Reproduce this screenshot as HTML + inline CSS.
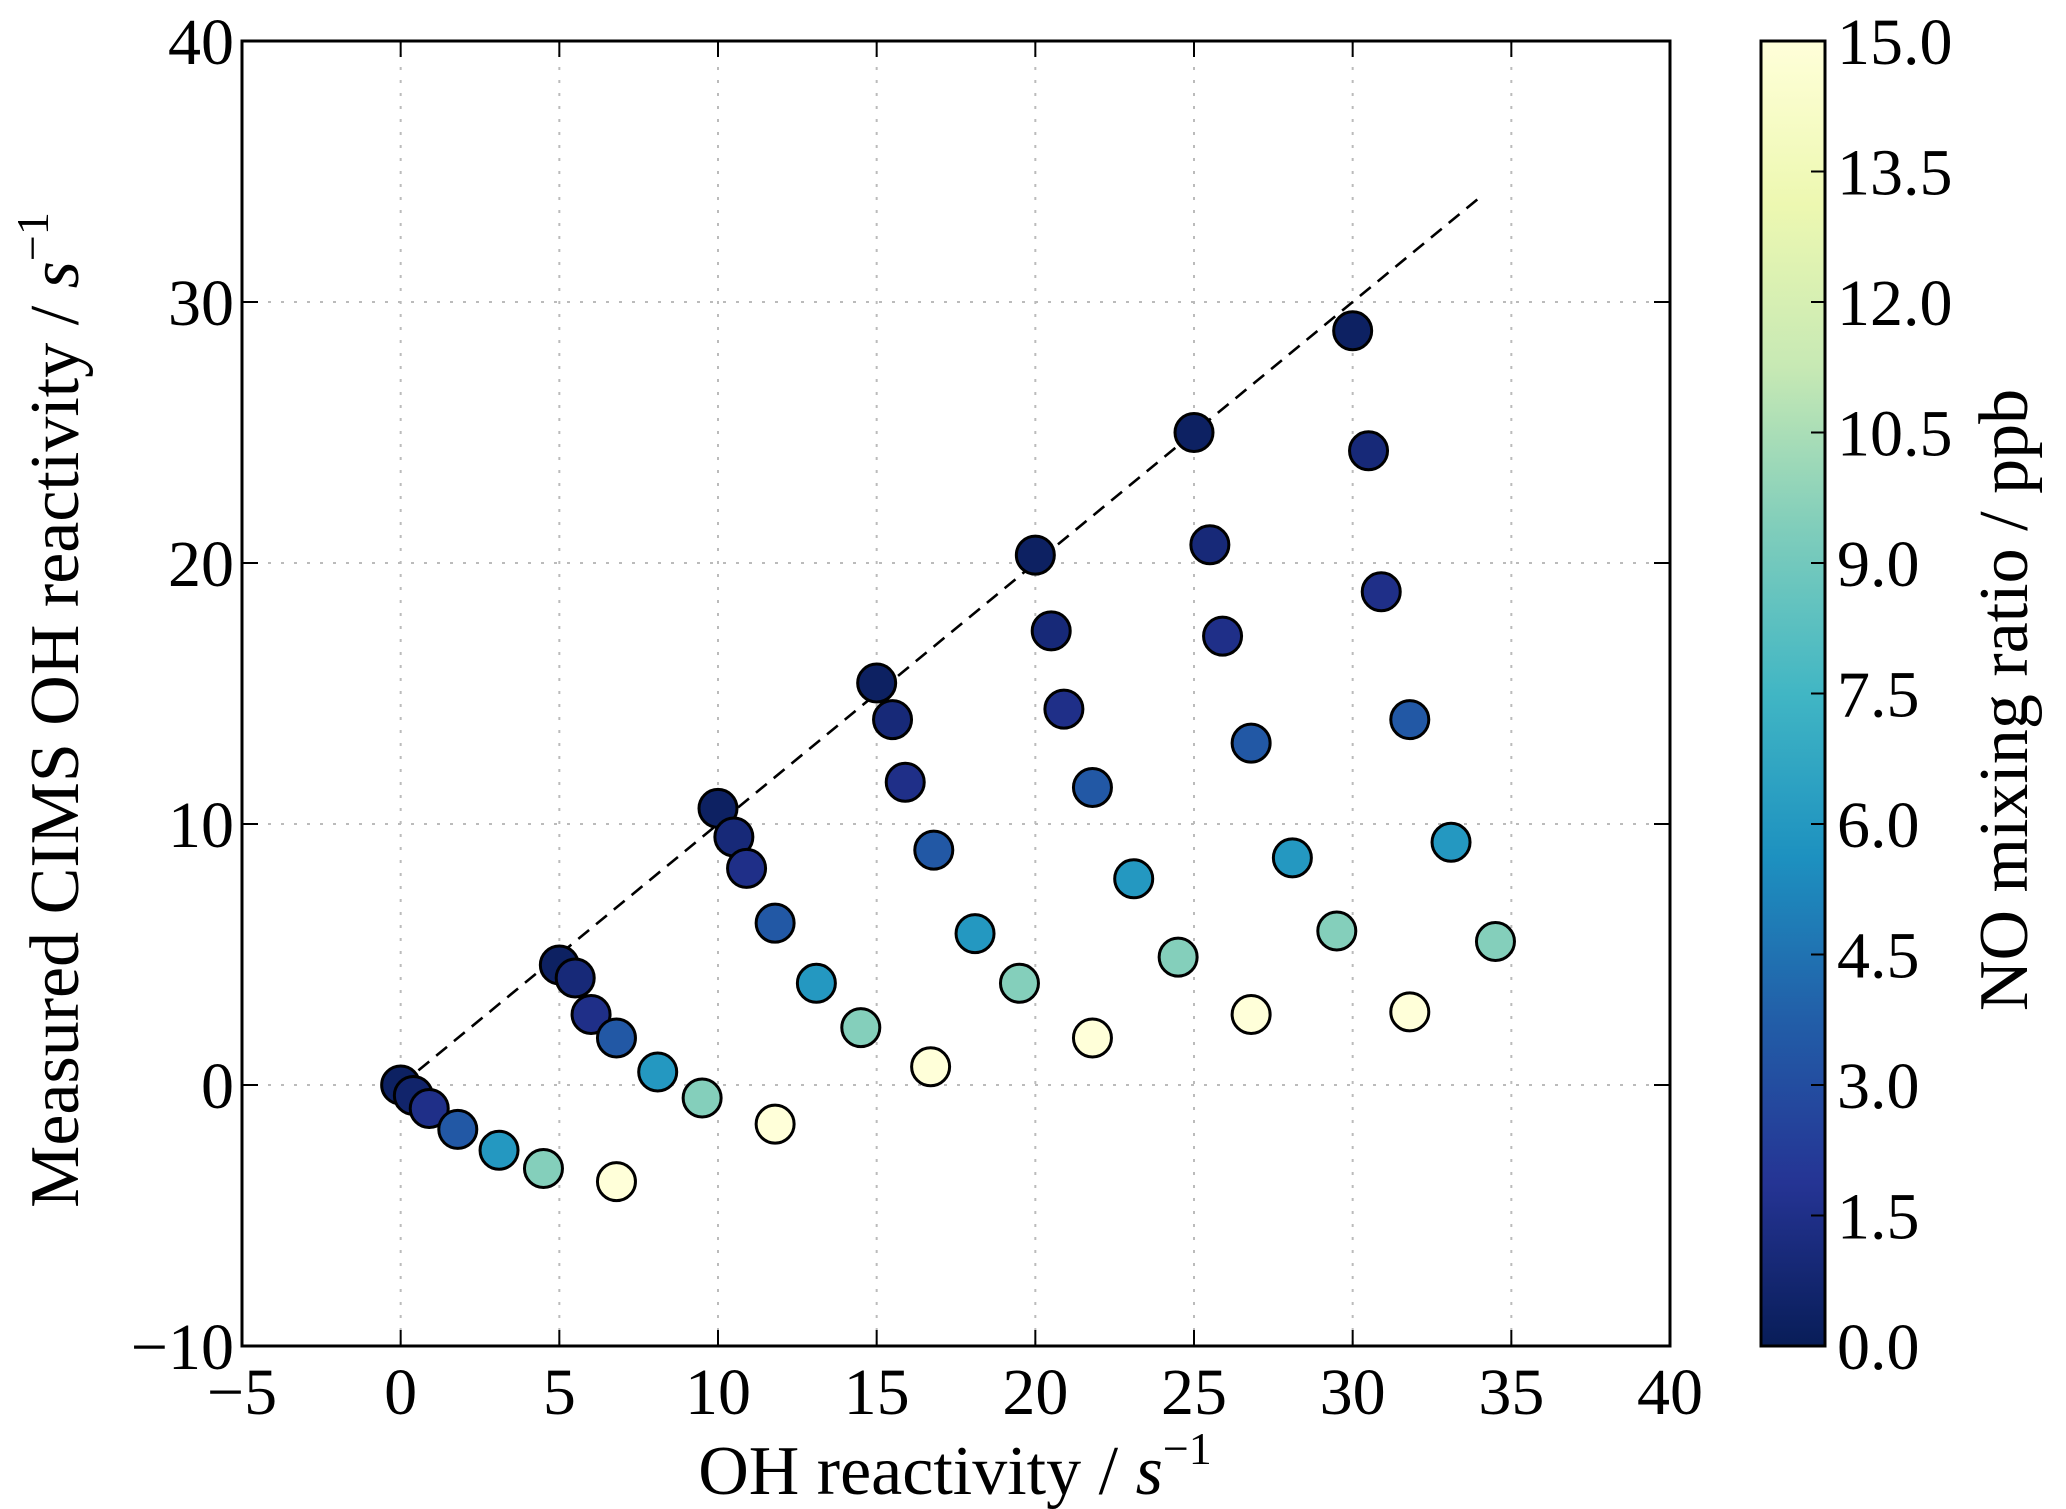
<!DOCTYPE html>
<html><head><meta charset="utf-8"><style>
html,body{margin:0;padding:0;background:#fff}
svg{display:block;font-family:"Liberation Serif","DejaVu Serif",serif}
</style></head><body>
<svg id="chart" width="2066" height="1509" viewBox="0 0 2066 1509" xmlns="http://www.w3.org/2000/svg">
<defs>
<linearGradient id="cbg" x1="0" y1="1" x2="0" y2="0">
<stop offset="0" stop-color="#081d58"/><stop offset="0.125" stop-color="#253494"/><stop offset="0.25" stop-color="#225ea8"/><stop offset="0.375" stop-color="#1d91c0"/><stop offset="0.5" stop-color="#41b6c4"/><stop offset="0.625" stop-color="#7fcdbb"/><stop offset="0.75" stop-color="#c7e9b4"/><stop offset="0.875" stop-color="#edf8b1"/><stop offset="1" stop-color="#ffffd9"/>
</linearGradient>
</defs>
<g id="grid"></g>
<line id="ref" stroke="#000" stroke-width="2.6" stroke-dasharray="14,9"/>
<g id="pts"></g>
<rect x="242" y="41" width="1428" height="1305" fill="none" stroke="#000" stroke-width="3"/>
<g id="ticks"></g>
<text x="955" y="1494" font-size="70" text-anchor="middle">OH reactivity / <tspan font-style="italic">s</tspan><tspan font-size="46" dy="-30">−1</tspan></text>
<text transform="translate(78,710) rotate(-90)" font-size="70" text-anchor="middle">Measured CIMS OH reactivity / <tspan font-style="italic">s</tspan><tspan font-size="46" dy="-30">−1</tspan></text>
<rect x="1761" y="41" width="64" height="1305" fill="url(#cbg)" stroke="#000" stroke-width="3"/>
<g id="cbticks"></g>
<text transform="translate(2027,700) rotate(-90)" font-size="70" text-anchor="middle">NO mixing ratio / ppb</text>
</svg>
<script>
const xs=[0,0.4,0.9,1.8,3.1,4.5,6.8, 5,5.5,6,6.8,8.1,9.5,11.8, 10,10.5,10.9,11.8,13.1,14.5,16.7, 15,15.5,15.9,16.8,18.1,19.5,21.8, 20,20.5,20.9,21.8,23.1,24.5,26.8, 25,25.5,25.9,26.8,28.1,29.5,31.8, 30,30.5,30.9,31.8,33.1,34.5];
const ys=[0,-0.4,-0.9,-1.7,-2.5,-3.2,-3.7, 4.6,4.1,2.7,1.8,0.5,-0.5,-1.5, 10.6,9.5,8.3,6.2,3.9,2.2,0.7, 15.4,14,11.6,9,5.8,3.9,1.8, 20.3,17.4,14.4,11.4,7.9,4.9,2.7, 25,20.7,17.2,13.1,8.7,5.9,2.8, 28.9,24.3,18.9,14,9.3,5.5];
const cs=[0.3,0.6,1.5,3.5,6,9.5,15, 0.3,1,1.5,3.5,6,9.5,15, 0.3,1,1.5,3.5,6,9.5,15, 0.3,1,1.5,3.5,6,9.5,15, 0.3,1,1.5,3.5,6,9.5,15, 0.3,1,1.5,3.5,6,9.5,15, 0.3,1,1.5,3.5,6,9.5];
const xTicks=[-5,0,5,10,15,20,25,30,35,40];
const yTicks=[-10,0,10,20,30,40];
const cTicks=[0,1.5,3,4.5,6,7.5,9,10.5,12,13.5,15];
const NS="http://www.w3.org/2000/svg";
const X=v=>242+(v+5)/45*1428, Y=v=>1346-(v+10)/50*1305, C=v=>1346-v/15*1305;
const stops=["#081d58","#253494","#225ea8","#1d91c0","#41b6c4","#7fcdbb","#c7e9b4","#edf8b1","#ffffd9"];
function col(v){let t=Math.max(0,Math.min(1,v/15))*8,i=Math.min(7,Math.floor(t)),f=t-i;
const a=stops[i],b=stops[i+1],p=(h,k)=>parseInt(h.substr(k,2),16);
let r=[1,3,5].map(k=>Math.round(p(a,k)+(p(b,k)-p(a,k))*f));return `rgb(${r})`;}
function mk(t,attrs,parent){const e=document.createElementNS(NS,t);for(const k in attrs)e.setAttribute(k,attrs[k]);parent.appendChild(e);return e;}
const grid=document.getElementById('grid'),ticks=document.getElementById('ticks');
xTicks.forEach(v=>{const x=X(v);
 const g=mk('line',{x1:x,x2:x,y1:41,y2:1346,stroke:'#bbb','stroke-width':2,'stroke-dasharray':'3,10'},grid);
 
 
 mk('line',{x1:x,x2:x,y1:1346,y2:1330,stroke:'#000','stroke-width':2},ticks);
 mk('line',{x1:x,x2:x,y1:41,y2:57,stroke:'#000','stroke-width':2},ticks);
 const t=mk('text',{x:x,y:1414,'font-size':66,'text-anchor':'middle'},ticks);t.textContent=v<0?'−'+(-v):v;
 
 });
yTicks.forEach(v=>{const y=Y(v);
 const g=mk('line',{x1:242,x2:1670,y1:y,y2:y,stroke:'#bbb','stroke-width':2,'stroke-dasharray':'3,10'},grid);
 
 
 mk('line',{x1:242,x2:258,y1:y,y2:y,stroke:'#000','stroke-width':2},ticks);
 mk('line',{x1:1670,x2:1654,y1:y,y2:y,stroke:'#000','stroke-width':2},ticks);
 const t=mk('text',{x:234,y:y+23,'font-size':66,'text-anchor':'end'},ticks);t.textContent=v<0?'−'+(-v):v;
 
 });
const ref=document.getElementById('ref');
ref.setAttribute('x1',X(0));ref.setAttribute('y1',Y(0));ref.setAttribute('x2',X(34));ref.setAttribute('y2',Y(34));
const pts=document.getElementById('pts');
xs.forEach((v,i)=>{const c=mk('circle',{cx:X(v),cy:Y(ys[i]),r:19,fill:col(cs[i]),stroke:'#000','stroke-width':3},pts);
 
 });
const cb=document.getElementById('cbticks');
cTicks.forEach(v=>{const y=C(v);
 mk('line',{x1:1825,x2:1811,y1:y,y2:y,stroke:'#000','stroke-width':2},cb);
 const t=mk('text',{x:1837,y:y+23,'font-size':66},cb);t.textContent=v.toFixed(1);
 
 });
</script>
</body></html>
